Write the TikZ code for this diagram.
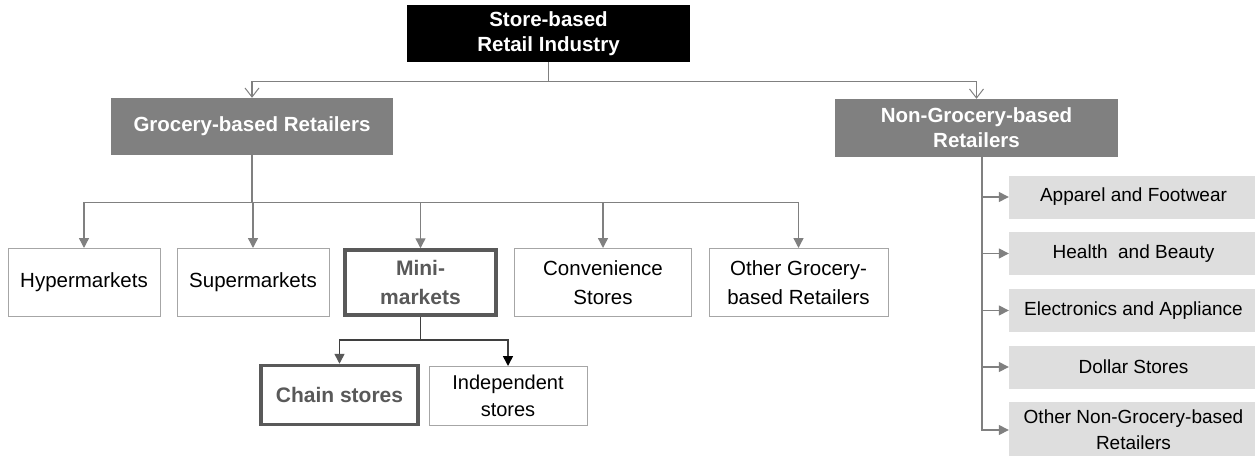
\documentclass[tikz,border=0pt]{standalone}
\usepackage{fontspec}
\setmainfont{Liberation Sans}
\usetikzlibrary{arrows.meta}

\definecolor{boxgray}{HTML}{808080}
\definecolor{subgray}{HTML}{DEDEDE}
\definecolor{edgegray}{HTML}{A6A6A6}
\definecolor{keygray}{HTML}{595959}
\definecolor{linegray}{HTML}{808080}
\definecolor{splitgray}{HTML}{3F3F3F}

\tikzset{
  base/.style={inner sep=0pt, align=center, font=\fontsize{19}{26}\selectfont},
  topbox/.style={base, fill=black, text=white, font=\fontsize{20.5}{25}\selectfont\bfseries},
  catbox/.style={base, fill=boxgray, text=white, font=\fontsize{20.5}{25}\selectfont\bfseries},
  leafbox/.style={base, draw=edgegray, line width=1pt, fill=white, minimum height=68pt, font=\fontsize{20.5}{29}\selectfont},
  keybox/.style={leafbox, draw=keygray, line width=3.5pt, text=keygray, font=\fontsize{21}{29}\selectfont\bfseries},
  subbox/.style={base, fill=subgray, minimum width=249pt, minimum height=43pt},
  link/.style={draw=linegray, line width=1.2pt},
  openarr/.style={link, -{Straight Barb[length=9pt,width=14pt,line width=1pt]}},
  fillarr/.style={link, line width=1.4pt, -{Triangle[length=10pt,width=10pt]}},
}

\begin{document}
\begin{tikzpicture}[x=1pt,y=-1pt]
  \useasboundingbox (0,0) rectangle (1255,455);

  % top and the two main branches
  \node[topbox, minimum width=283pt, minimum height=57pt] (top) at (548.5,33.5) {Store-based\\Retail Industry};
  \node[catbox, minimum width=282pt, minimum height=57pt] (groc) at (252,126.5) {Grocery-based Retailers};
  \node[catbox, minimum width=283pt, minimum height=58pt] (nongroc) at (976.5,128) {Non-Grocery-based\\Retailers};

  \draw[openarr] (top.south) -- ++(0,19) -| (groc.north);
  \draw[openarr] (top.south) -- ++(0,19) -| (nongroc.north);

  % grocery-based formats
  \node[leafbox, minimum width=152pt] (hyper) at (84,282.5) {Hypermarkets};
  \node[leafbox, minimum width=152pt] (super) at (253,282.5) {Supermarkets};
  \node[keybox, minimum width=151pt, minimum height=65pt] (mini) at (420.5,282.5) {Mini-\\markets};
  \node[leafbox, minimum width=177pt] (conv) at (603,282.5) {Convenience\\Stores};
  \node[leafbox, minimum width=179pt] (othgroc) at (798.5,282.5) {Other Grocery-\\based Retailers};

  \foreach \c in {hyper,super,mini,conv,othgroc}{
    \draw[fillarr] (groc.south) -- ++(0,47) -| (\c.north);
  }

  % mini-markets split
  \node[keybox, minimum width=157pt, minimum height=59pt] (chain) at (339.5,395) {Chain stores};
  \node[leafbox, minimum width=158pt, minimum height=59pt, font=\fontsize{20}{27}\selectfont] (indep) at (508,396) {Independent\\stores};

  \draw[draw=splitgray, line width=1.5pt] (mini.south) -- ++(0,23) coordinate (split);
  \draw[draw=splitgray, line width=1.5pt, -{Triangle[length=10pt,width=10pt,color=keygray]}] (split) -| (chain.north);
  \draw[draw=splitgray, line width=1.5pt, -{Triangle[length=10pt,width=10pt,color=black]}] (split) -| (indep.north);

  % non-grocery-based formats
  \node[subbox] (r1) at (1133.5,197) {Apparel and Footwear};
  \node[subbox] (r2) at (1133.5,253.5) {Health\ \ and Beauty};
  \node[subbox] (r3) at (1133.5,310.5) {Electronics and Appliance};
  \node[subbox] (r4) at (1133.5,367) {Dollar Stores};
  \node[subbox, minimum height=56pt] (r5) at (1133.5,430) {Other Non-Grocery-based\\Retailers};

  \foreach \i in {1,...,5}{
    \draw[fillarr] ([xshift=5.5pt]nongroc.south) |- (r\i.west);
  }
\end{tikzpicture}
\end{document}
